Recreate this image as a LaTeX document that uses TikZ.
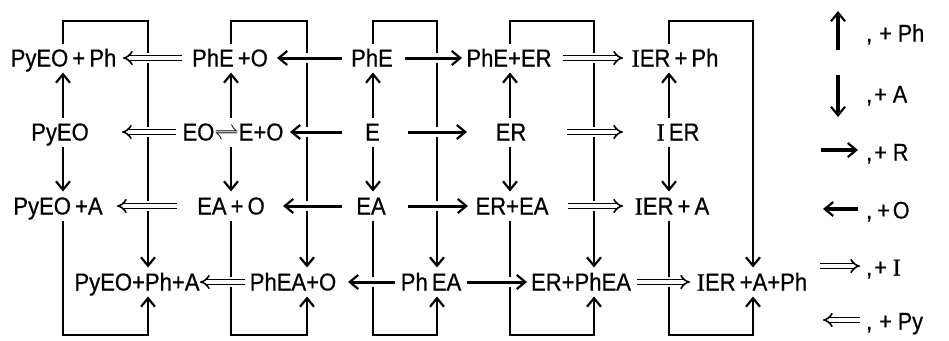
\documentclass[tikz,border=0pt]{standalone}
\usepackage{fontspec}
\setmainfont{Liberation Sans}[FakeStretch=0.9,FakeBold=0.6]
\newfontfamily\serI{Liberation Serif}[FakeBold=0.6]
\usetikzlibrary{arrows.meta}
\newcommand{\Ii}{{\serI I}}
\begin{document}
\begin{tikzpicture}[x=1pt,y=-1pt,
  lbl/.style={inner xsep=0pt, inner ysep=6pt, text height=17pt, text depth=0pt,
    font=\fontsize{24.5}{24.5}\selectfont, outer sep=0pt},
  leg/.style={anchor=west, inner sep=0pt, text height=17pt, text depth=0pt,
    font=\fontsize{24}{24}\selectfont},
  tip/.style={-{Straight Barb[length=8.5pt,width=14pt,line width=2.2pt]}},
  sarr/.style={line width=3pt, tip},
  varr/.style={line width=2.4pt, tip},
  brk/.style={line width=2.2pt, line join=miter, tip},
  darr/.style={double, double distance=3.2pt, line width=1.6pt, -{Implies}},
  knock/.style={draw=white, line width=10pt},
]
\useasboundingbox (0,0) rectangle (949,340);

% ---------- nodes ----------
% row 1
\node[lbl] (pyeoph)  at (63.5,58) {PyEO\,+\,Ph};
\node[lbl] (pheo)    at (230,58)  {PhE\,+O};
\node[lbl] (phe)     at (372,58)  {PhE};
\node[lbl] (pheer)   at (509,58)  {PhE+ER};
\node[lbl] (ierph)   at (675,58)  {\Ii ER\,+\,Ph};
% row 2
\node[lbl] (pyeo)    at (60,132)  {PyEO};
\node[lbl] (eoeo)    at (233,132) {EO{\fontsize{25}{25}\selectfont$\rightleftharpoons$}E+O};
\node[lbl] (e)       at (372.5,132) {E};
\node[lbl] (er)      at (511,132) {ER};
\node[lbl] (ier)     at (678,132) {\Ii\,ER};
% row 3
\node[lbl] (pyeoa)   at (58,206)  {PyEO\,+A};
\node[lbl] (eao)     at (231,206) {EA\,+\,O};
\node[lbl] (ea)      at (371,206) {EA};
\node[lbl] (erea)    at (512,206) {ER+EA};
\node[lbl] (iera)    at (672,206) {\Ii ER\,+\,A};
% row 4
\node[lbl] (pyeopha) at (137,282) {PyEO+Ph+A};
\node[lbl] (pheao)   at (293,282) {PhEA+O};
\node[lbl] (phea)    at (431,282) {Ph\,EA};
\node[lbl] (erphea)  at (581,282) {ER+PhEA};
\node[lbl] (ieraph)  at (752,282) {\Ii ER\,+A+Ph};

% ---------- brackets (top: +A path, bottom: +Ph path) ----------
\draw[brk] (pyeoph.north -| 63,0) -- (63,21) -- (148,21) -- (pyeopha.north -| 148,0);
\draw[brk] (pyeoa.south -| 63,0) -- (63,335) -- (148,335) -- (pyeopha.south -| 148,0);
\draw[brk] (pheo.north -| 231,0) -- (231,21) -- (307,21) -- (pheao.north -| 307,0);
\draw[brk] (eao.south -| 231,0) -- (231,335) -- (307,335) -- (pheao.south -| 307,0);
\draw[brk] (phe.north -| 373,0) -- (373,21) -- (437,21) -- (phea.north -| 437,0);
\draw[brk] (ea.south -| 373,0) -- (373,335) -- (437,335) -- (phea.south -| 437,0);
\draw[brk] (pheer.north -| 510,0) -- (510,21) -- (594,21) -- (erphea.north -| 594,0);
\draw[brk] (erea.south -| 510,0) -- (510,335) -- (594,335) -- (erphea.south -| 594,0);
\draw[brk] (ierph.north -| 669,0) -- (669,21) -- (753,21) -- (ieraph.north -| 753,0);
\draw[brk] (iera.south -| 669,0) -- (669,335) -- (753,335) -- (ieraph.south -| 753,0);

% ---------- inner vertical arrows ----------
\draw[varr] (pyeo.north -| 63,0) -- (pyeoph.south -| 63,0);
\draw[varr] (pyeo.south -| 63,0) -- (pyeoa.north -| 63,0);
\draw[varr] (eoeo.north -| 231,0) -- (pheo.south -| 231,0);
\draw[varr] (eoeo.south -| 231,0) -- (eao.north -| 231,0);
\draw[varr] (e.north -| 373,0) -- (phe.south -| 373,0);
\draw[varr] (e.south -| 373,0) -- (ea.north -| 373,0);
\draw[varr] (er.north -| 510,0) -- (pheer.south -| 510,0);
\draw[varr] (er.south -| 510,0) -- (erea.north -| 510,0);
\draw[varr] (ier.north -| 669,0) -- (ierph.south -| 669,0);
\draw[varr] (ier.south -| 669,0) -- (iera.north -| 669,0);

% ---------- horizontal arrows (with knock-out of crossing lines) ----------
\newcommand{\hsing}[4]{\draw[knock] (#1 -| #3,0) -- (#2 -| #4,0);
  \draw[sarr] (#1 -| #3,0) -- (#2 -| #4,0);}
\newcommand{\hdoub}[4]{\draw[knock] (#1 -| #3,0) -- (#2 -| #4,0);
  \draw[darr] (#1 -| #3,0) -- (#2 -| #4,0);}
% row 1
\hdoub{pheo}{pyeoph}{182}{123}
\hsing{phe}{pheo}{342}{277}
\hsing{phe}{pheer}{405}{462}
\hdoub{pheer}{ierph}{563}{623}
% row 2
\hdoub{eoeo}{pyeo}{176}{122}
\hsing{e}{eoeo}{342}{290}
\hsing{e}{er}{408}{467}
\hdoub{er}{ier}{567}{623}
% row 3
\hdoub{eao}{pyeoa}{177}{117}
\hsing{ea}{eao}{342}{283}
\hsing{ea}{erea}{408}{468}
\hdoub{erea}{iera}{568}{623}
% row 4
\hdoub{pheao}{pyeopha}{245}{200}
\hsing{phea}{pheao}{395}{348}
\hsing{phea}{erphea}{467}{527}
\hdoub{erphea}{ieraph}{637}{690}

% ---------- legend ----------
\node[leg] (l1) at (866,33)  {,\hspace{7pt}+\hspace{6pt}Ph};
\node[leg] (l2) at (866,94)  {,\hspace{2pt}+\hspace{6pt}A};
\node[leg] (l3) at (866,152) {,\hspace{2pt}+\hspace{6pt}R};
\node[leg] (l4) at (866,210) {,\hspace{5pt}+\hspace{3pt}O};
\node[leg] (l5) at (866,267) {,\hspace{2pt}+\hspace{6pt}\Ii};
\node[leg] (l6) at (866,321) {,\hspace{7pt}+\hspace{6pt}Py};
\draw[line width=3.4pt, tip] (838,50) -- (838,11);
\draw[line width=3.4pt, tip] (838,75) -- (838,117);
\draw[line width=3.4pt, tip] (821,150) -- (858,150);
\draw[line width=3.4pt, tip] (858,209) -- (823,209);
\draw[darr] (820,266) -- (860,266);
\draw[darr] (860,320) -- (823,320);
\end{tikzpicture}
\end{document}
